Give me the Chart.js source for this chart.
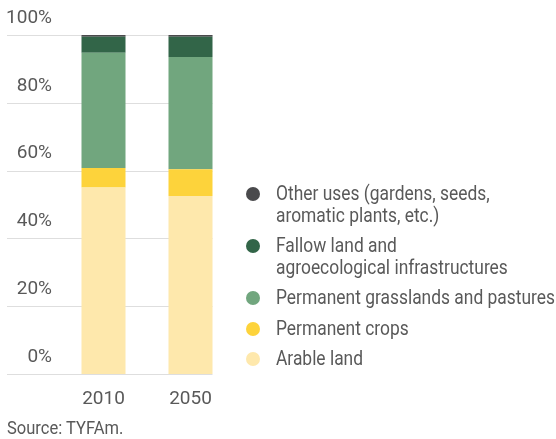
<!DOCTYPE html>
<html>
<head>
<meta charset="utf-8">
<script src="https://cdn.jsdelivr.net/npm/chart.js@4/dist/chart.umd.min.js"></script>
<style>
    html, body { margin: 0; padding: 0; background: #fff; }
    #wrap { position: relative; width: 556px; height: 439px; }
    #legend { position: absolute; left: 245px; top: 183px; margin: 0; padding: 0; list-style: none; }
    #legend li { position: relative; padding-left: 31px; margin-bottom: 9px; white-space: nowrap;
        font: 20px Roboto, sans-serif; line-height: 21.5px; color: #595959; }
    #legend li span.txt { display: inline-block; transform: scaleX(0.87); transform-origin: 0 0; }
    #legend li span.dot { position: absolute; left: 1px; top: 4px; width: 14px; height: 14px; border-radius: 50%; }
    #source { position: absolute; left: 7px; top: 417px; font: 19px Roboto, sans-serif; line-height: 22px; color: #595959;
        transform: scaleX(0.87); transform-origin: 0 0; }
</style>
</head>
<body>
<div id="wrap">
    <canvas id="chart" width="556" height="439"></canvas>
    <ul id="legend"></ul>
    <div id="source">Source: TYFAm.</div>
</div>
<script>
var YEARS = ['2010', '2050'];
var SERIES = ['Arable land', 'Permanent crops', 'Permanent grasslands and pastures', 'Fallow land and agroecological infrastructures', 'Other uses (gardens, seeds, aromatic plants, etc.)'];
var LEGEND_LINES = [['Arable land'], ['Permanent crops'], ['Permanent grasslands and pastures'], ['Fallow land and', 'agroecological infrastructures'], ['Other uses (gardens, seeds,', 'aromatic plants, etc.)']];
var COLORS = ['#fee8ac', '#fdd33b', '#71a67e', '#326548', '#4a4a4c'];
var ARABLE = [55, 52.5];
var CROPS = [5.8, 7.9];
var GRASS = [34, 33.1];
var FALLOW = [4.7, 6];
var OTHER = [0.5, 0.5];
var Y_TICKS = [0, 20, 40, 60, 80, 100];

var FONT = "Roboto, sans-serif";
var VALUES = [ARABLE, CROPS, GRASS, FALLOW, OTHER];

// grid lines run from the left edge under the labels to the right edge of the last bar
var gridPlugin = {
    id: 'grid',
    beforeDatasetsDraw: function (chart) {
        var y = chart.scales.y;
        var meta = chart.getDatasetMeta(0);
        var last = meta.data[meta.data.length - 1];
        var right = last.x + last.width / 2;
        var ctx = chart.ctx;
        ctx.save();
        ctx.strokeStyle = '#dedede';
        ctx.lineWidth = 1;
        Y_TICKS.forEach(function (v) {
            var py = Math.round(y.getPixelForValue(v)) + 0.5;
            ctx.beginPath();
            ctx.moveTo(7, py);
            ctx.lineTo(right, py);
            ctx.stroke();
        });
        ctx.restore();
    }
};

new Chart(document.getElementById('chart'), {
    type: 'bar',
    data: {
        labels: YEARS,
        datasets: SERIES.map(function (s, i) {
            return { label: s, data: VALUES[i], backgroundColor: COLORS[i], borderWidth: 0, barPercentage: 1, categoryPercentage: 44 / 87 };
        })
    },
    options: {
        responsive: false,
        animation: false,
        layout: { padding: { top: 35, right: 322, left: 0, bottom: 0 } },
        plugins: { legend: { display: false }, tooltip: { enabled: false } },
        scales: {
            x: {
                stacked: true,
                grid: { display: false },
                border: { display: false },
                ticks: { color: '#595959', font: { family: FONT, size: 19 }, padding: 6 },
                afterFit: function (s) { s.height = 65; }
            },
            y: {
                stacked: true,
                min: 0,
                max: 100,
                grid: { display: false },
                border: { display: false },
                ticks: {
                    stepSize: 20,
                    color: '#595959',
                    font: { family: FONT, size: 19 },
                    padding: 0,
                    labelOffset: -17,
                    callback: function (v) { return v + '%'; }
                },
                afterFit: function (s) { s.width = 60; }
            }
        }
    },
    plugins: [gridPlugin]
});

var ul = document.getElementById('legend');
for (var i = SERIES.length - 1; i >= 0; i--) {
    var li = document.createElement('li');
    var dot = document.createElement('span');
    dot.className = 'dot';
    dot.style.background = COLORS[i];
    li.appendChild(dot);
    var txt = document.createElement('span');
    txt.className = 'txt';
    LEGEND_LINES[i].forEach(function (t, k) {
        if (k) txt.appendChild(document.createElement('br'));
        txt.appendChild(document.createTextNode(t));
    });
    li.appendChild(txt);
    ul.appendChild(li);
}
</script>
</body>
</html>
